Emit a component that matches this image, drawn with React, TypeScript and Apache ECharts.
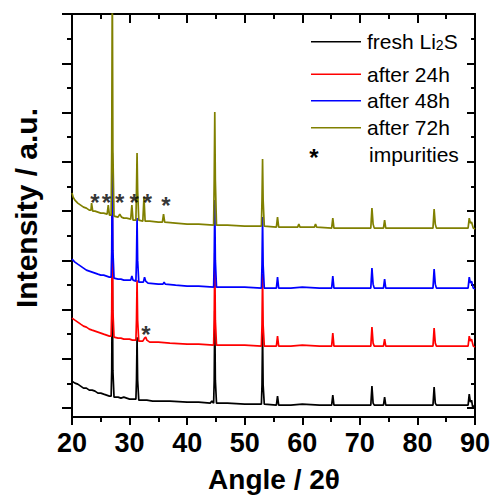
import React, { useEffect, useRef } from "react";
import * as echarts from "echarts";

const FONT = "'Liberation Sans', Arial, Helvetica, sans-serif";

// Axis ranges / ticks
const X_MIN = 20;
const X_MAX = 90;
const X_STEP = 10;
const Y_MIN = -180;
const Y_MAX = 8000;
const Y_MAJOR = [0, 1000, 2000, 3000, 4000, 5000, 6000, 7000, 8000];
const Y_MINOR = [500, 1500, 2500, 3500, 4500, 5500, 6500, 7500];

const SERIES_NAMES = ["fresh Li2S", "after 24h", "after 48h", "after 72h"];
const COLORS = ["#000000", "#ff0000", "#0000ff", "#808000"];

// [angle 2θ, intensity (a.u., stacked offset)]
const freshLi2S: [number, number][] = [
  [20.0, 548], [20.5, 508], [21.0, 487], [21.5, 447], [22.0, 406], [22.5, 406], [23.0, 365], [23.5, 365],
  [24.0, 345], [24.5, 305], [25.0, 305], [25.5, 284], [26.0, 264], [26.5, 244], [26.8, 244], [26.9, 771],
  [27.0, 2883], [27.1, 771], [27.3, 223], [28.0, 223], [28.5, 203], [29.0, 223], [29.5, 203], [30.0, 183],
  [30.5, 183], [31.1, 183], [31.2, 568], [31.3, 1441], [31.4, 568], [31.6, 162], [32.5, 162], [33.0, 162],
  [34.0, 142], [35.0, 142], [37.0, 142], [40.0, 122], [42.0, 122], [44.0, 101], [44.3, 142], [44.6, 101],
  [44.7, 568], [44.8, 1969], [44.9, 568], [45.1, 101], [47.0, 101], [50.0, 81], [52.9, 81], [53.0, 467],
  [53.1, 1543], [53.2, 467], [53.4, 81], [55.5, 61], [55.7, 244], [55.9, 61], [58.0, 61], [60.0, 81],
  [63.0, 61], [65.1, 61], [65.3, 264], [65.5, 61], [68.0, 61], [71.9, 61], [72.1, 447], [72.3, 101],
  [72.5, 61], [74.1, 61], [74.3, 223], [74.5, 61], [78.0, 61], [82.7, 61], [82.9, 426], [83.1, 101],
  [83.3, 61], [86.0, 61], [88.8, 61], [89.0, 284], [89.2, 122], [89.4, 162], [89.6, 20], [89.8, 41],
  [90.0, 61],
];

const after24h: [number, number][] = [
  [20.0, 1827], [20.5, 1786], [21.0, 1746], [21.5, 1705], [22.0, 1665], [22.5, 1644], [23.0, 1604], [23.5, 1583],
  [24.0, 1563], [24.5, 1543], [25.0, 1523], [25.5, 1502], [26.0, 1482], [26.5, 1462], [26.8, 1462], [26.9, 1989],
  [27.0, 4222], [27.1, 1989], [27.3, 1441], [28.0, 1421], [28.5, 1421], [29.0, 1401], [29.5, 1401], [30.0, 1401],
  [30.5, 1380], [31.1, 1380], [31.2, 1786], [31.3, 2598], [31.4, 1786], [31.6, 1360], [32.3, 1360], [32.6, 1421],
  [32.8, 1441], [33.0, 1380], [33.5, 1340], [35.0, 1340], [37.0, 1320], [40.0, 1299], [42.0, 1299], [44.6, 1279],
  [44.7, 1786], [44.8, 3147], [44.9, 1786], [45.1, 1279], [47.0, 1279], [50.0, 1279], [52.9, 1259], [53.0, 1685],
  [53.1, 2720], [53.2, 1685], [53.4, 1259], [55.5, 1259], [55.7, 1462], [55.9, 1259], [58.0, 1259], [60.0, 1279],
  [63.0, 1259], [65.1, 1259], [65.3, 1523], [65.5, 1259], [68.0, 1259], [71.9, 1259], [72.1, 1644], [72.3, 1320],
  [72.5, 1259], [74.1, 1259], [74.3, 1401], [74.5, 1259], [78.0, 1259], [82.7, 1259], [82.9, 1624], [83.1, 1320],
  [83.3, 1259], [86.0, 1259], [88.8, 1259], [89.0, 1462], [89.2, 1360], [89.4, 1401], [89.7, 1259], [90.0, 1238],
];

const after48h: [number, number][] = [
  [20.0, 3025], [20.5, 2964], [21.0, 2923], [21.5, 2883], [22.0, 2842], [22.5, 2801], [23.0, 2781], [23.5, 2761],
  [24.0, 2741], [24.5, 2720], [25.0, 2700], [25.5, 2700], [26.0, 2680], [26.5, 2659], [26.8, 2659], [26.9, 3207],
  [27.0, 5177], [27.1, 3207], [27.3, 2639], [28.0, 2619], [28.5, 2619], [29.0, 2598], [29.5, 2598], [30.2, 2598],
  [30.4, 2680], [30.6, 2598], [31.1, 2578], [31.2, 3004], [31.3, 3857], [31.4, 3004], [31.6, 2558], [32.4, 2558],
  [32.6, 2659], [32.8, 2578], [33.2, 2538], [35.0, 2517], [35.8, 2517], [36.0, 2558], [36.2, 2517], [38.0, 2497],
  [40.0, 2477], [42.0, 2477], [44.6, 2456], [44.7, 3004], [44.8, 4222], [44.9, 3004], [45.1, 2456], [47.0, 2456],
  [50.0, 2456], [52.9, 2436], [53.0, 2903], [53.1, 3877], [53.2, 2903], [53.4, 2436], [55.5, 2436], [55.7, 2659],
  [55.9, 2436], [58.0, 2436], [60.0, 2456], [63.0, 2436], [65.1, 2436], [65.3, 2680], [65.5, 2436], [68.0, 2436],
  [71.9, 2436], [72.1, 2842], [72.3, 2517], [72.5, 2436], [74.1, 2436], [74.3, 2619], [74.5, 2436], [78.0, 2436],
  [82.7, 2436], [82.9, 2822], [83.1, 2517], [83.3, 2436], [86.0, 2436], [88.8, 2436], [89.0, 2659], [89.2, 2538],
  [89.4, 2578], [89.7, 2436], [90.0, 2416],
];

const after72h: [number, number][] = [
  [20.0, 4365], [20.2, 4283], [20.5, 4222], [21.0, 4162], [21.5, 4121], [22.0, 4080], [22.5, 4060], [23.0, 4019],
  [23.3, 4019], [23.4, 4162], [23.6, 3999], [24.0, 3999], [24.5, 3979], [25.0, 3959], [25.5, 3959], [26.1, 3938],
  [26.3, 4121], [26.5, 3918], [26.8, 3918], [26.9, 5237], [27.0, 8891], [27.1, 5237], [27.3, 3898], [28.0, 3877],
  [28.3, 3938], [28.6, 3877], [29.0, 3857], [29.5, 3857], [30.2, 3837], [30.4, 4121], [30.6, 3816], [31.1, 3816],
  [31.2, 4425], [31.3, 5177], [31.4, 4425], [31.6, 3816], [32.3, 3796], [32.5, 4283], [32.7, 3796], [33.5, 3796],
  [35.0, 3776], [35.7, 3776], [35.9, 3938], [36.1, 3776], [38.0, 3756], [40.0, 3735], [42.0, 3735], [44.6, 3715],
  [44.7, 4628], [44.8, 6009], [44.9, 4628], [45.1, 3715], [47.0, 3715], [50.0, 3695], [52.9, 3695], [53.0, 4222],
  [53.1, 5055], [53.2, 4222], [53.4, 3695], [55.5, 3674], [55.7, 3877], [55.9, 3674], [58.0, 3674], [59.2, 3674],
  [59.4, 3735], [59.6, 3674], [62.1, 3674], [62.3, 3735], [62.5, 3674], [65.1, 3654], [65.3, 3857], [65.5, 3654],
  [68.0, 3654], [71.9, 3654], [72.1, 4060], [72.3, 3735], [72.5, 3654], [74.1, 3654], [74.3, 3816], [74.5, 3654],
  [78.0, 3654], [82.7, 3654], [82.9, 4040], [83.1, 3735], [83.3, 3654], [86.0, 3654], [88.8, 3654], [89.0, 3857],
  [89.2, 3756], [89.4, 3776], [89.7, 3654], [90.0, 3634],
];

const SERIES_DATA = [freshLi2S, after24h, after48h, after72h];

// impurity markers (*)
const impurities72h: [number, number][] = [
  [24.0, 4172], [26.0, 4172], [28.3, 4172], [30.8, 4172], [33.1, 4172], [36.3, 4111],
];
const impurities24h: [number, number][] = [[32.85, 1492]];

const LEGEND_LABELS = ["fresh Li{s|2}S", "after 24h", "after 48h", "after 72h"];

export default function App() {
  const ref = useRef<HTMLDivElement>(null);
  useEffect(() => {
    if (!ref.current) return;
    const chart = echarts.init(ref.current, undefined, { renderer: "svg" });
    const tickStyle = { color: "#000", width: 2 };
    const lineStyle = { color: "#000", width: 2 };

    const baseY = {
      type: "value" as const,
      min: Y_MIN,
      max: Y_MAX,
      axisLabel: { show: false },
      splitLine: { show: false },
      minorSplitLine: { show: false },
    };

    const legendLineY = [41.7, 74.2, 100.7, 127.7];
    const legendTextY = [41, 74.3, 100, 127];
    const graphic: any[] = [];
    LEGEND_LABELS.forEach((t, i) => {
      graphic.push({
        type: "line",
        shape: { x1: 311, y1: legendLineY[i], x2: 361, y2: legendLineY[i] },
        style: { stroke: COLORS[i], lineWidth: 1.5 },
        silent: true,
      });
      graphic.push({
        type: "text",
        x: 367,
        y: legendTextY[i],
        style: {
          text: t,
          fontSize: 21,
          fontFamily: FONT,
          fill: "#000",
          align: "left",
          verticalAlign: "middle",
          lineHeight: 22,
          rich: { s: { fontSize: 14, lineHeight: 7, verticalAlign: "bottom", fontFamily: FONT, fill: "#000" } },
        },
        silent: true,
      });
    });
    graphic.push({
      type: "text",
      x: 314,
      y: 157,
      style: { text: "*", fontSize: 24, fontWeight: "bold", fontFamily: FONT, fill: "#000", align: "center", verticalAlign: "middle" },
      silent: true,
    });
    graphic.push({
      type: "text",
      x: 369,
      y: 154.3,
      style: { text: "impurities", fontSize: 21, fontFamily: FONT, fill: "#000", align: "left", verticalAlign: "middle" },
      silent: true,
    });
    graphic.push({
      type: "text",
      x: 274,
      y: 479,
      style: {
        text: "Angle / 2θ",
        fontSize: 28,
        fontWeight: "bold",
        fontFamily: FONT,
        fill: "#000",
        align: "center",
        verticalAlign: "middle",
      },
      silent: true,
    });
    graphic.push({
      type: "text",
      x: 26,
      y: 208,
      rotation: Math.PI / 2,
      style: {
        text: "Intensity / a.u.",
        fontSize: 30,
        fontWeight: "bold",
        fontFamily: FONT,
        fill: "#000",
        align: "center",
        verticalAlign: "middle",
      },
      silent: true,
    });

    chart.setOption({
      animation: false,
      backgroundColor: "#ffffff",
      grid: { left: 72, right: 16, top: 14, bottom: 78, containLabel: false, outerBoundsMode: "none" },
      xAxis: [
        {
          type: "value",
          position: "bottom",
          min: X_MIN,
          max: X_MAX,
          interval: X_STEP,
          axisLine: { show: true, onZero: false, lineStyle },
          axisTick: { show: true, inside: false, length: 8, lineStyle: tickStyle },
          minorTick: { show: true, splitNumber: 2, length: 5, lineStyle: tickStyle },
          axisLabel: { show: true, fontSize: 27, fontWeight: "bold", color: "#000", fontFamily: FONT, margin: 12 },
          splitLine: { show: false },
          minorSplitLine: { show: false },
        },
        {
          type: "value",
          position: "top",
          min: X_MIN,
          max: X_MAX,
          interval: X_STEP,
          axisLine: { show: true, onZero: false, lineStyle },
          axisTick: { show: true, inside: true, length: 9, lineStyle: tickStyle },
          minorTick: { show: true, splitNumber: 2, length: 5, lineStyle: tickStyle },
          axisLabel: { show: false },
          splitLine: { show: false },
          minorSplitLine: { show: false },
        },
      ],
      yAxis: [
        {
          ...baseY,
          position: "left",
          axisLine: { show: true, onZero: false, lineStyle },
          axisTick: { show: true, inside: false, length: 10, lineStyle: tickStyle, customValues: Y_MAJOR },
        },
        {
          ...baseY,
          position: "left",
          axisLine: { show: false, onZero: false },
          axisTick: { show: true, inside: false, length: 5, lineStyle: tickStyle, customValues: Y_MINOR },
        },
        {
          ...baseY,
          position: "right",
          axisLine: { show: true, onZero: false, lineStyle },
          axisTick: { show: true, inside: true, length: 8, lineStyle: tickStyle, customValues: Y_MAJOR },
        },
        {
          ...baseY,
          position: "right",
          axisLine: { show: false, onZero: false },
          axisTick: { show: true, inside: true, length: 4, lineStyle: tickStyle, customValues: Y_MINOR },
        },
      ],
      series: [
        ...SERIES_DATA.map((d, i) => ({
          type: "line",
          name: SERIES_NAMES[i],
          data: d,
          xAxisIndex: 0,
          yAxisIndex: 0,
          symbol: "none",
          showSymbol: false,
          clip: true,
          silent: true,
          z: 2 + i,
          lineStyle: { color: COLORS[i], width: 1.7 },
          itemStyle: { color: COLORS[i] },
        })),
        {
          type: "scatter",
          name: "impurities",
          data: [...impurities72h, ...impurities24h],
          xAxisIndex: 0,
          yAxisIndex: 0,
          symbolSize: 1,
          silent: true,
          z: 10,
          itemStyle: { color: "rgba(0,0,0,0)" },
          label: {
            show: true,
            position: "inside",
            formatter: "*",
            fontSize: 24,
            fontWeight: "bold",
            fontFamily: FONT,
            color: "#000",
          },
        },
      ],
      graphic,
    });
    return () => chart.dispose();
  }, []);
  return <div ref={ref} style={{ position: "absolute", left: 0, top: 0, width: 491, height: 495 }} />;
}
